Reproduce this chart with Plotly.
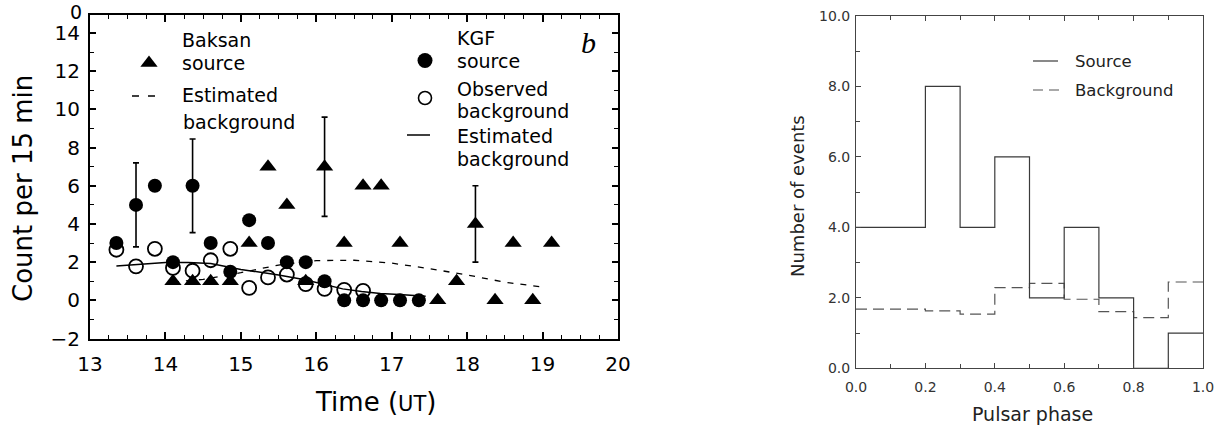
import plotly.graph_objects as go

W, H = 1220, 425

# ---------------- Panel b: counts per 15 min against time (UT) ----------------
kgf_time = [13.35, 13.61, 13.86, 14.10, 14.36, 14.60, 14.86, 15.11, 15.36,
            15.61, 15.86, 16.11, 16.37, 16.62, 16.86, 17.11, 17.36]
kgf_source = [3, 5, 6, 2, 6, 3, 1.5, 4.2, 3, 2, 2, 1, 0, 0, 0, 0, 0]
kgf_source_err = [None, 2.2, None, None, 2.45, None, None, None, None,
                  None, None, None, None, None, None, None, None]

obs_time = [13.35, 13.61, 13.86, 14.10, 14.36, 14.60, 14.86, 15.11, 15.36,
            15.61, 15.86, 16.11, 16.37, 16.62]
obs_background = [2.65, 1.78, 2.7, 1.7, 1.55, 2.1, 2.7, 0.65, 1.2,
                  1.35, 0.85, 0.6, 0.55, 0.5]

baksan_time = [14.10, 14.36, 14.60, 14.86, 15.11, 15.36, 15.61, 15.86, 16.11, 16.37,
               16.62, 16.86, 17.11, 17.61, 17.86, 18.11, 18.37, 18.61, 18.87, 19.12]
baksan_source = [1, 1, 1, 1, 3, 7, 5, 1, 7, 3, 6, 6, 3, 0, 1, 4, 0, 3, 0, 3]
baksan_source_err = [None, None, None, None, None, None, None, None, 2.6, None,
                     None, None, None, None, None, 2.0, None, None, None, None]

kgf_est_time = [13.35, 13.7, 14.0, 14.3, 14.6, 15.0, 15.5, 15.85, 16.1,
                16.35, 16.6, 16.85, 17.1, 17.45]
kgf_est_background = [1.8, 1.88, 1.98, 1.98, 1.93, 1.62, 1.33, 1.08, 0.82,
                      0.6, 0.46, 0.36, 0.3, 0.22]

baksan_est_time = [14.1, 14.5, 15.0, 15.5, 16.0, 16.5, 17.0, 17.5, 18.0, 18.5, 19.0]
baksan_est_background = [0.95, 1.1, 1.45, 1.85, 2.08, 2.1, 1.95, 1.66, 1.33, 0.95, 0.7]

time_ticks = [13, 14, 15, 16, 17, 18, 19, 20]
count_ticks = [-2, 0, 2, 4, 6, 8, 10, 12, 14]

# ---------------- Right panel: pulsar-phase histogram ----------------
phase_edges = [0.0, 0.1, 0.2, 0.3, 0.4, 0.5, 0.6, 0.7, 0.8, 0.9, 1.0]
source_events = [4, 4, 8, 4, 6, 2, 4, 2, 0, 1]
background_events = [1.68, 1.68, 1.63, 1.54, 2.29, 2.41, 1.96, 1.61, 1.44, 2.45]

phase_ticks = [0.0, 0.2, 0.4, 0.6, 0.8, 1.0]
event_ticks = [0, 2, 4, 6, 8, 10]

LFONT = "DejaVu Sans"
BLACK = "#000000"
GREY = "#3a3a3a"


def px_x(p):
    return p / W


def px_y(p):
    return 1 - p / H


fig = go.Figure()

# Baksan estimated background (dashed)
fig.add_trace(go.Scatter(
    x=baksan_est_time, y=baksan_est_background, mode="lines",
    line=dict(color=BLACK, width=1.3, dash="6px,7px"),
    xaxis="x", yaxis="y", showlegend=False))

# KGF observed background (open circles)
fig.add_trace(go.Scatter(
    x=obs_time, y=obs_background, mode="markers",
    marker=dict(symbol="circle-open", size=14, color=BLACK, line=dict(width=1.8)),
    xaxis="x", yaxis="y", showlegend=False))

# KGF source (filled circles)
fig.add_trace(go.Scatter(
    x=kgf_time, y=kgf_source, mode="markers",
    marker=dict(symbol="circle", size=14, color=BLACK),
    error_y=dict(type="data", array=kgf_source_err, symmetric=True,
                 color=BLACK, thickness=1.6, width=3),
    xaxis="x", yaxis="y", showlegend=False))

# Baksan source (filled triangles)
fig.add_trace(go.Scatter(
    x=baksan_time, y=baksan_source, mode="markers",
    marker=dict(symbol="triangle-up", size=15, color=BLACK),
    error_y=dict(type="data", array=baksan_source_err, symmetric=True,
                 color=BLACK, thickness=1.6, width=3),
    xaxis="x", yaxis="y", showlegend=False))

# KGF estimated background (solid)
fig.add_trace(go.Scatter(
    x=kgf_est_time, y=kgf_est_background, mode="lines",
    line=dict(color=BLACK, width=1.5),
    xaxis="x", yaxis="y", showlegend=False))

# Histogram: background (dashed step) and source (solid step)
fig.add_trace(go.Scatter(
    x=phase_edges, y=background_events + [background_events[-1]],
    mode="lines", line=dict(color="#555555", width=1.2, dash="11px,6px", shape="hv"),
    xaxis="x2", yaxis="y2", showlegend=False))
fig.add_trace(go.Scatter(
    x=phase_edges, y=source_events + [source_events[-1]],
    mode="lines", line=dict(color=GREY, width=1.2, shape="hv"),
    xaxis="x2", yaxis="y2", showlegend=False))

# Legend keys, drawn on a full-figure pixel layer
fig.add_trace(go.Scatter(x=[149], y=[63], mode="markers",
                         marker=dict(symbol="triangle-up", size=15, color=BLACK),
                         xaxis="x3", yaxis="y3", showlegend=False, hoverinfo="skip"))
fig.add_trace(go.Scatter(x=[132, 155], y=[96, 96], mode="lines",
                         line=dict(color=BLACK, width=1.3, dash="7px,9px"),
                         xaxis="x3", yaxis="y3", showlegend=False, hoverinfo="skip"))
fig.add_trace(go.Scatter(x=[425], y=[60.5], mode="markers",
                         marker=dict(symbol="circle", size=15, color=BLACK),
                         xaxis="x3", yaxis="y3", showlegend=False, hoverinfo="skip"))
fig.add_trace(go.Scatter(x=[425], y=[98], mode="markers",
                         marker=dict(symbol="circle-open", size=13, color=BLACK,
                                     line=dict(width=1.6)),
                         xaxis="x3", yaxis="y3", showlegend=False, hoverinfo="skip"))
fig.add_trace(go.Scatter(x=[407, 430], y=[135, 135], mode="lines",
                         line=dict(color=BLACK, width=1.5),
                         xaxis="x3", yaxis="y3", showlegend=False, hoverinfo="skip"))
fig.add_trace(go.Scatter(x=[1033, 1058], y=[61, 61], mode="lines",
                         line=dict(color=GREY, width=1.2),
                         xaxis="x3", yaxis="y3", showlegend=False, hoverinfo="skip"))
fig.add_trace(go.Scatter(x=[1033, 1059], y=[90, 90], mode="lines",
                         line=dict(color="#555555", width=1.2, dash="10px,6px"),
                         xaxis="x3", yaxis="y3", showlegend=False, hoverinfo="skip"))

left_x = [90, 618]
left_y = [15, 338.5]
right_x = [856, 1203]
right_y = [16, 368.3]

common_left = dict(showgrid=False, zeroline=False, showline=True, linecolor=BLACK,
                   linewidth=2, mirror="ticks", ticks="inside", tickcolor=BLACK,
                   automargin=False,
                   tickfont=dict(family=LFONT, size=20, color=BLACK))
common_right = dict(showgrid=False, zeroline=False, showline=True, linecolor="#444444",
                    linewidth=1, ticks="inside", tickcolor="#444444", automargin=False,
                    tickfont=dict(family=LFONT, size=14, color="#333333"))

fig.update_layout(
    width=W, height=H,
    margin=dict(l=0, r=0, t=0, b=0, autoexpand=False),
    paper_bgcolor="white", plot_bgcolor="rgba(0,0,0,0)",
    xaxis=dict(domain=[px_x(left_x[0]), px_x(left_x[1])], range=[13, 20],
               tickvals=time_ticks, ticklen=7, tickwidth=1.5,
               minor=dict(dtick=0.25, ticklen=4, tickwidth=1, ticks="inside", tickcolor=BLACK),
               anchor="y", ticklabelstandoff=6, **common_left),
    yaxis=dict(domain=[px_y(left_y[1]), px_y(left_y[0])], range=[-2, 14.95],
               tickvals=count_ticks, ticklen=6, tickwidth=1.5,
               minor=dict(dtick=1, ticklen=4, tickwidth=1, ticks="inside", tickcolor=BLACK),
               anchor="x", ticklabelstandoff=4, **common_left),
    xaxis2=dict(domain=[px_x(right_x[0]), px_x(right_x[1])], range=[0, 1],
                tickvals=phase_ticks, ticktext=[f"{v:.1f}" for v in phase_ticks],
                ticklen=5, mirror="ticks",
                minor=dict(dtick=0.1, ticklen=4, ticks="inside", tickcolor="#444444"),
                anchor="y2", ticklabelstandoff=6, **common_right),
    yaxis2=dict(domain=[px_y(right_y[1]), px_y(right_y[0])], range=[0, 10],
                tickvals=event_ticks, ticktext=[f"{v:.1f}" for v in event_ticks],
                ticklen=5, mirror=True,
                minor=dict(dtick=1, ticklen=4, ticks="inside", tickcolor="#444444"),
                anchor="x2", ticklabelstandoff=2, **common_right),
    xaxis3=dict(domain=[0, 1], range=[0, W], visible=False, fixedrange=True, anchor="y3"),
    yaxis3=dict(domain=[0, 1], range=[H, 0], visible=False, fixedrange=True, anchor="x3"),
)


def label(text, x, y, size, xanchor="left", yanchor="middle", angle=0,
          family=LFONT, color=BLACK):
    fig.add_annotation(text=text, x=px_x(x), y=px_y(y), xref="paper", yref="paper",
                       xanchor=xanchor, yanchor=yanchor, showarrow=False,
                       textangle=angle, font=dict(family=family, size=size, color=color))


# Panel b texts
label("Count per 15 min", 23, 189, 26, xanchor="center", angle=-90)
label("Time (<span style='font-size:21px'>UT</span>)", 375, 402, 26, xanchor="center")
label("0", 84, 11.5, 19, xanchor="right")
label("<i>b</i>", 588, 42, 30, xanchor="center", family="Liberation Serif")
label("Baksan", 180, 40, 19)
label("source", 180, 62.5, 19)
label("Estimated", 180, 95, 19)
label("background", 181, 121.5, 19)
label("KGF", 455, 38.5, 19)
label("source", 455, 61, 19)
label("Observed", 455, 88.5, 19)
label("background", 455, 111, 19)
label("Estimated", 455, 136, 19)
label("background", 455, 158.5, 19)

# Histogram texts
label("Number of events", 797, 196, 18, xanchor="center", angle=-90, color="#222222")
label("Pulsar phase", 1032, 414, 19, xanchor="center", color="#222222")
label("Source", 1073, 61, 16.5, color="#222222")
label("Background", 1073, 90, 16.5, color="#222222")

fig.write_html("out.html")
